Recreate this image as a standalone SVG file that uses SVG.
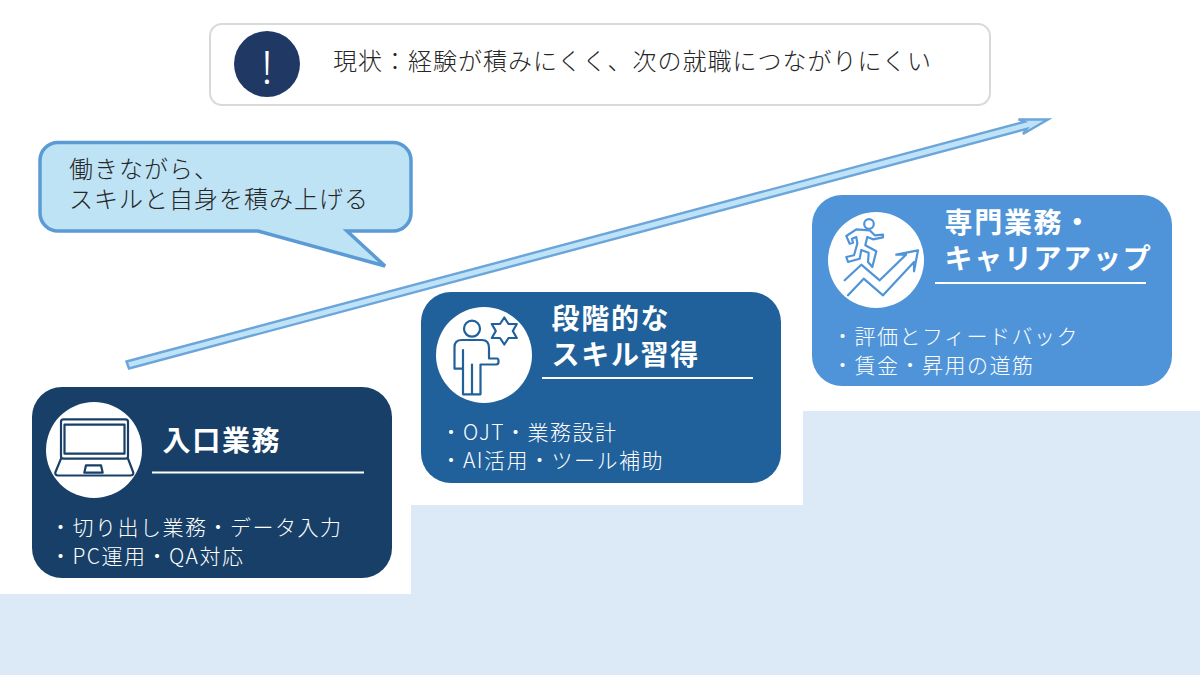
<svg xmlns="http://www.w3.org/2000/svg" width="1200" height="675" viewBox="0 0 1200 675">
<style>
text{font-family:"Noto Sans CJK JP","Noto Sans",sans-serif}
.h{font-size:28px;font-weight:700;letter-spacing:1.7px;fill:#fff}
.b{font-size:21px;font-weight:300;letter-spacing:1.5px;fill:#fff}
.t{font-size:24px;font-weight:300;letter-spacing:1px;fill:#262626}
.c{fill:#fff}
.r{stroke:#fff;stroke-width:2;fill:none}
.i{fill:none;stroke-width:2.2;stroke-linejoin:round;stroke-linecap:round}
</style>
<rect width="1200" height="675" fill="#fff"/>
<polygon id="stairs" points="0,594 411,594 411,505 803,505 803,411 1200,411 1200,675 0,675" fill="#DCE9F6"/>
<g id="status">
<rect x="210" y="24" width="780" height="81" rx="12" fill="#fff" stroke="#D9D9D9" stroke-width="2"/>
<circle cx="267" cy="64" r="33" fill="#1F3864"/>
<text x="267" y="84" font-size="46" font-weight="300" fill="#fff" text-anchor="middle" style="font-family:'Noto Sans',sans-serif">!</text>
<text class="t" x="333" y="70">現状：経験が積みにくく、次の就職につながりにくい</text>
</g>
<g id="connectors">
<polygon points="126.500,361.500 1024.500,121.800 1018.500,119.500 1048,119.500 1023,134 1026.800,128.800 129,368.500" fill="#BEE3F8" stroke="#6BA5DA" stroke-width="2.400" stroke-linejoin="miter"/>
</g>
<g id="bubble">
<path d="M58,142.500H393A18,18 0 0 1 411,160.500V213A18,18 0 0 1 393,231H347L385,266L258,231H58A18,18 0 0 1 40,213V160.500A18,18 0 0 1 58,142.500Z" fill="#BEE3F5" stroke="#5B9BD5" stroke-width="3.500"/>
<text class="t"><tspan x="69" y="178">働きながら、</tspan><tspan x="69" y="208">スキルと自身を積み上げる</tspan></text>
</g>
<g id="card1">
<rect x="32" y="387" width="360" height="191" rx="30" fill="#173F67"/>
<circle class="c" cx="94" cy="450" r="48"/>
<g class="i" stroke="#173F67">
<rect x="61" y="419.300" width="67" height="39.400" rx="2.500"/>
<rect x="64.500" y="424.700" width="60" height="29"/>
<path d="M61,458.700L55.300,472.500Q55,475.500 58,475.500H130.500Q133.500,475.500 133.300,472.500L128,458.700"/>
<path d="M86,465.300H101L102.700,472.700H84.300Z"/>
</g>
<text class="h" x="162.500" y="451">入口業務</text>
<line class="r" x1="152" y1="472.500" x2="364" y2="472.500"/>
<text class="b"><tspan x="50" y="535">・切り出し業務・データ入力</tspan><tspan x="50" y="564">・PC運用・QA対応</tspan></text>
</g>
<g id="card2">
<rect x="421" y="292" width="360" height="191" rx="30" fill="#20609B"/>
<circle class="c" cx="484" cy="355" r="48"/>
<g class="i" stroke="#20609B">
<circle cx="472" cy="328.700" r="8"/>
<path d="M454.500,368.700V347Q454.500,340 462,340H482Q489,340 489,348V358.500H497Q498.500,358.500 498.500,361V362Q498.500,364.500 496,364.500H480.500V394.300H463V368.700ZM463,350V368.700M472,364.500V394.300"/>
<polygon points="504.300,317.500 508.500,324 516.800,324 512.800,331 516.800,338 508.500,338 504.300,344.500 500,338 491.800,338 495.800,331 491.800,324 500,324"/>
</g>
<text class="h"><tspan x="551.500" y="329">段階的な</tspan><tspan x="551.500" y="365">スキル習得</tspan></text>
<line class="r" x1="542" y1="378" x2="753" y2="378"/>
<text class="b"><tspan x="440.500" y="440">・OJT・業務設計</tspan><tspan x="440.500" y="468">・AI活用・ツール補助</tspan></text>
</g>
<g id="card3">
<rect x="812" y="195" width="360" height="191" rx="30" fill="#4F94D9"/>
<circle class="c" cx="876" cy="260" r="48"/>
<g class="i" stroke="#4F94D9">
<circle cx="869" cy="224" r="4.800"/>
<path d="M848,295.300L863.700,278.700L883,295.300L914,262V271.300L918,250.300L896.300,254.700H906L879.700,280.300L861.300,264.700L844.700,280.300"/>
<path d="M849.700,243.700L846.300,236L856.300,229.300L869.700,230.300L874.700,235.300L883,234.700V237.300L873,239.300L867.300,237L865.300,245.300L876.300,251.300L872.300,267L868,262L868.700,252.700L861.300,250L859.700,258.700L848,262L846.300,257L854,255.300L857.300,243.700L856.300,237L852,238.700L853,242.700Z"/>
</g>
<text class="h"><tspan x="944.500" y="233">専門業務・</tspan><tspan x="944.500" y="269">キャリアアップ</tspan></text>
<line class="r" x1="935" y1="283" x2="1146" y2="283"/>
<text class="b"><tspan x="832" y="344">・評価とフィードバック</tspan><tspan x="832" y="373">・賃金・昇用の道筋</tspan></text>
</g>
</svg>
